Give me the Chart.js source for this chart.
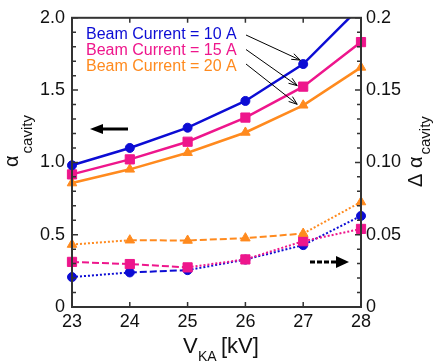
<!DOCTYPE html>
<html>
<head>
<meta charset="utf-8">
<script src="https://cdn.jsdelivr.net/npm/chart.js@4.4.0/dist/chart.umd.min.js"></script>
<style>
  html, body { margin:0; padding:0; background:#fff; }
  #wrap { width:441px; height:363px; position:relative; }
</style>
</head>
<body>
<div id="wrap"><canvas id="c"></canvas></div>
<script>
// data
const voltages   = [23, 24, 25, 26, 27, 28];
const alpha10    = [0.98, 1.10, 1.24, 1.425, 1.68, 2.08];
const alpha15    = [0.917, 1.021, 1.143, 1.31, 1.524, 1.832];
const alpha20    = [0.857, 0.952, 1.067, 1.207, 1.395, 1.657];
const dAlpha10   = [0.0207, 0.0239, 0.0255, 0.0328, 0.0428, 0.063];
const dAlpha15   = [0.0312, 0.0297, 0.0274, 0.0329, 0.0455, 0.054];
const dAlpha20   = [0.0432, 0.0462, 0.046, 0.0476, 0.0508, 0.0726];
const leftTicks  = ["0", "0.5", "1.0", "1.5", "2.0"];
const rightTicks = ["0", "0.05", "0.10", "0.15", "0.2"];
const legendText = ["Beam Current = 10 A", "Beam Current = 15 A", "Beam Current = 20 A"];

const BLUE = "#0c0cd4", PINK = "#ee168c", ORANGE = "#ff8a1e";
const FONT = "'Liberation Sans', Arial, sans-serif";

function pts(arr) { return voltages.map((v, i) => ({ x: v, y: arr[i] })); }

// dash style per segment: d = dashed, o = dotted
function segDash(list) {
  return { borderDash: ctx => list[ctx.p0DataIndex] === "o" ? [2, 2] : [7, 3] };
}

function ds(data, color, style, axis, extra) {
  return Object.assign({
    data: pts(data), yAxisID: axis, borderColor: color, backgroundColor: color,
    pointBackgroundColor: color, pointBorderColor: color, pointBorderWidth: 1,
    borderWidth: 2.5, pointStyle: style,
    pointRadius: style === "rect" ? 6.5 : (style === "triangle" ? 5.5 : 4.5),
    tension: 0, clip: 10
  }, extra || {});
}

// frame + inward ticks
const framePlugin = {
  id: "frame",
  afterDraw(chart) {
    const { ctx, chartArea: a, scales } = chart;
    const x = scales.x, y = scales.y, y1 = scales.y1;
    ctx.save();
    ctx.strokeStyle = "#333";
    ctx.lineWidth = 2;
    ctx.strokeRect(a.left, a.top, a.right - a.left, a.bottom - a.top);
    ctx.lineWidth = 1.5;
    ctx.beginPath();
    for (let i = 0; i <= 20; i++) {
      const py = y.getPixelForValue(i * 0.1);
      const len = i % 5 === 0 ? 6 : 4;
      ctx.moveTo(a.left, py); ctx.lineTo(a.left + len, py);
      const qy = y1.getPixelForValue(i * 0.01);
      ctx.moveTo(a.right, qy); ctx.lineTo(a.right - len, qy);
    }
    voltages.forEach(v => {
      const px = x.getPixelForValue(v);
      ctx.moveTo(px, a.bottom); ctx.lineTo(px, a.bottom - 5);
      ctx.moveTo(px, a.top); ctx.lineTo(px, a.top + 5);
    });
    ctx.stroke();
    ctx.restore();
  }
};

function openArrow(ctx, x0, y0, x1, y1) {
  const ang = Math.atan2(y1 - y0, x1 - x0), h = 9, s = 0.35;
  ctx.beginPath();
  ctx.moveTo(x0, y0); ctx.lineTo(x1, y1);
  ctx.moveTo(x1 - h * Math.cos(ang - s), y1 - h * Math.sin(ang - s));
  ctx.lineTo(x1, y1);
  ctx.lineTo(x1 - h * Math.cos(ang + s), y1 - h * Math.sin(ang + s));
  ctx.stroke();
}

// legend text, arrows and axis titles
const notesPlugin = {
  id: "notes",
  afterDraw(chart) {
    const { ctx, scales } = chart;
    const x = scales.x, y = scales.y;
    ctx.save();
    ctx.font = "16px " + FONT;
    ctx.textBaseline = "alphabetic";
    [BLUE, PINK, ORANGE].forEach((c, i) => {
      ctx.fillStyle = c;
      ctx.fillText(legendText[i], 86, 39 + i * 16);
    });

    // thin arrows from legend to the 27 kV points
    ctx.strokeStyle = "#000";
    ctx.lineWidth = 1;
    const px = x.getPixelForValue(27);
    const ends = [
      [px - 3, y.getPixelForValue(alpha10[4]) - 4],
      [px - 6, y.getPixelForValue(alpha15[4]) - 1],
      [px - 6, y.getPixelForValue(alpha20[4]) - 1]
    ];
    ends.forEach((e, i) => openArrow(ctx, 246, 35 + i * 14.5, e[0], e[1]));

    // left solid arrow
    ctx.fillStyle = "#000";
    ctx.lineWidth = 3;
    ctx.beginPath(); ctx.moveTo(101, 129); ctx.lineTo(128, 129); ctx.stroke();
    ctx.beginPath(); ctx.moveTo(90, 129); ctx.lineTo(103, 124); ctx.lineTo(103, 134); ctx.closePath(); ctx.fill();
    // right dashed arrow
    ctx.setLineDash([5, 2]);
    ctx.beginPath(); ctx.moveTo(310, 262); ctx.lineTo(337, 262); ctx.stroke();
    ctx.setLineDash([]);
    ctx.beginPath(); ctx.moveTo(349, 262); ctx.lineTo(336, 256); ctx.lineTo(336, 268); ctx.closePath(); ctx.fill();

    // x title
    ctx.fillStyle = "#111";
    ctx.font = "22px " + FONT;
    ctx.fillText("V", 183, 353);
    ctx.font = "14px " + FONT;
    ctx.fillText("KA", 198, 361);
    ctx.font = "22px " + FONT;
    ctx.fillText("[kV]", 221, 353);

    // left title
    ctx.save();
    ctx.translate(18, 167);
    ctx.rotate(-Math.PI / 2);
    ctx.font = "20px " + FONT;
    ctx.fillText("\u03b1", 0, 0);
    const wa = ctx.measureText("\u03b1").width;
    ctx.font = "15px " + FONT;
    ctx.fillText("cavity", wa + 2, 14);
    ctx.restore();

    // right title
    ctx.save();
    ctx.translate(422, 187);
    ctx.rotate(-Math.PI / 2);
    ctx.font = "20px " + FONT;
    ctx.fillText("\u0394 \u03b1", 0, 0);
    const wb = ctx.measureText("\u0394 \u03b1").width;
    ctx.font = "15px " + FONT;
    ctx.fillText("cavity", wb + 2, 8);
    ctx.restore();
    ctx.restore();
  }
};

new Chart(document.getElementById("c"), {
  type: "line",
  data: {
    datasets: [
      ds(alpha10, BLUE, "circle", "y", { clip: { left: 10, right: 10, top: 0, bottom: 10 } }),
      ds(alpha15, PINK, "rect", "y"),
      ds(alpha20, ORANGE, "triangle", "y"),
      ds(dAlpha20, ORANGE, "triangle", "y1", { segment: segDash(["o", "d", "d", "d", "o"]), borderWidth: 2 }),
      ds(dAlpha15, PINK, "rect", "y1", { segment: segDash(["d", "d", "o", "o", "o"]), borderWidth: 2 }),
      ds(dAlpha10, BLUE, "circle", "y1", { segment: segDash(["o", "d", "o", "o", "o"]), borderWidth: 2 })
    ]
  },
  options: {
    responsive: true,
    maintainAspectRatio: false,
    animation: false,
    layout: { padding: { top: 17, left: 0, right: 0, bottom: 0 } },
    plugins: { legend: { display: false }, tooltip: { enabled: false } },
    scales: {
      x: {
        type: "linear", min: 23, max: 28,
        grid: { display: false, drawTicks: false }, border: { display: false },
        ticks: { stepSize: 1, padding: 4, color: "#111", font: { family: FONT, size: 18 } },
        afterFit(s) { s.height = 56; }
      },
      y: {
        position: "left", min: 0, max: 2,
        grid: { display: false, drawTicks: false }, border: { display: false },
        ticks: {
          stepSize: 0.5, padding: 7, color: "#111", font: { family: FONT, size: 18 },
          callback: v => leftTicks[Math.round(v / 0.5)]
        },
        afterFit(s) { s.width = 72; }
      },
      y1: {
        position: "right", min: 0, max: 0.2,
        grid: { display: false, drawTicks: false }, border: { display: false },
        ticks: {
          stepSize: 0.05, padding: 5, color: "#111", font: { family: FONT, size: 18 },
          callback: v => rightTicks[Math.round(v / 0.05)]
        },
        afterFit(s) { s.width = 80; }
      }
    }
  },
  plugins: [framePlugin, notesPlugin]
});
</script>
</body>
</html>
